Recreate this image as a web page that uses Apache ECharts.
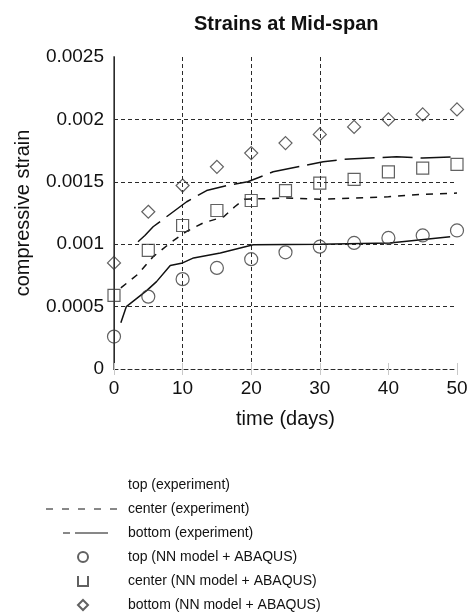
<!DOCTYPE html>
<html>
<head>
<meta charset="utf-8">
<script src="https://cdn.jsdelivr.net/npm/echarts@6/dist/echarts.min.js"></script>
<style>html,body{margin:0;padding:0;background:#fff}#c{width:471px;height:615px}</style>
</head>
<body>
<div id="c"></div>
<script>
// ---- data ----
const xTicks = [0, 10, 20, 30, 40, 50];
const yTicks = [0, 0.0005, 0.001, 0.0015, 0.002, 0.0025];

const nnDays = [0, 5, 10, 15, 20, 25, 30, 35, 40, 45, 50];
const topNN    = [0.00026, 0.00058, 0.00072, 0.00081, 0.00088, 0.000935, 0.00098, 0.00101, 0.00105, 0.00107, 0.00111];
const centerNN = [0.00059, 0.00095, 0.00115, 0.00127, 0.00135, 0.00143, 0.00149, 0.00152, 0.00158, 0.00161, 0.00164];
const bottomNN = [0.00085, 0.00126, 0.00147, 0.00162, 0.00173, 0.00181, 0.00188, 0.00194, 0.00200, 0.00204, 0.00208];

const topExpDays = [1, 1.8, 4.8, 6.2, 8.2, 10, 11.6, 15.5, 18.4, 20.3, 30, 40.2, 49];
const topExpVals = [0.00037, 0.0005, 0.00063, 0.0007, 0.00083, 0.00085, 0.00089, 0.00093, 0.00097, 0.000995, 0.001, 0.00101, 0.00106];

const centerExpDays = [1, 3.5, 5.7, 8.2, 10.5, 13, 16, 17.6, 19, 25, 30, 40, 45, 50];
const centerExpVals = [0.00065, 0.00076, 0.0009, 0.00101, 0.0011, 0.00117, 0.00122, 0.0013, 0.00136, 0.00137, 0.00136, 0.00138, 0.0014, 0.00141];

const bottomExpDays = [3.5, 4.5, 5.7, 10.6, 13.5, 16.5, 19.5, 23.2, 30.5, 33.4, 41.2, 45, 49.5];
const bottomExpVals = [0.00102, 0.00107, 0.00114, 0.00134, 0.00143, 0.00147, 0.0015, 0.00158, 0.00166, 0.00168, 0.0017, 0.00169, 0.0017];

const names = [
  'top (experiment)', 'center (experiment)', 'bottom (experiment)',
  'top (NN model + ABAQUS)', 'center (NN model + ABAQUS)', 'bottom (NN model + ABAQUS)'
];

const pair = (xs, ys) => xs.map((x, i) => [x, ys[i]]);

const FONT = '"Liberation Sans", Arial, sans-serif';
const GRID_C = '#2a2a2a';
const MARK_C = '#3a3a3a';
const NOFILL = 'rgba(0,0,0,0)';
const chart = echarts.init(document.getElementById('c'), null, {renderer: 'canvas'});

const lineSeries = (name, xs, ys, type) => ({
  name, type: 'line', data: pair(xs, ys), symbol: 'none', smooth: false,
  lineStyle: {color: '#111', width: 1.5, type: type},
  itemStyle: {color: '#111'}, z: 3, animation: false
});
const scatterSeries = (name, ys, symbol, size) => ({
  name, type: 'scatter', data: pair(nnDays, ys), symbol, symbolSize: size,
  itemStyle: {color: NOFILL, borderColor: MARK_C, borderWidth: 1.2},
  z: 4, animation: false
});

const legendText = {fontFamily: FONT, fontSize: 14, color: '#111', lineHeight: 14};
const hiddenDot = {color: NOFILL, borderWidth: 0, opacity: 0};

chart.setOption({
  animation: false,
  backgroundColor: '#fff',
  title: {
    text: 'Strains at Mid-span', left: 189, top: 9,
    textStyle: {fontFamily: FONT, fontWeight: 'bold', fontSize: 20, color: '#111'}
  },
  grid: {left: 114, right: 14, top: 57, bottom: 246},
  legend: [{
    orient: 'vertical', left: 45, top: 478, padding: 0,
    itemWidth: 73, itemHeight: 10, itemGap: 10,
    textStyle: Object.assign({padding: [0, 0, 0, 4]}, legendText),
    data: [
      {name: names[0], lineStyle: {opacity: 0}, itemStyle: hiddenDot},
      {name: names[1], lineStyle: {type: [7, 9], width: 1}, itemStyle: hiddenDot},
      {name: names[2], lineStyle: {type: [0, 17, 7, 5, 33, 40], width: 1}, itemStyle: hiddenDot}
    ]
  }, {
    orient: 'vertical', left: 77, top: 550, padding: 0,
    itemWidth: 10, itemHeight: 10, itemGap: 10,
    textStyle: Object.assign({padding: [0, 0, 0, 35]}, legendText),
    data: [
      {name: names[3], icon: 'circle'},
      {name: names[4], icon: 'path://M0,0L0,10L10,10L10,0'},
      {name: names[5], icon: 'diamond'}
    ]
  }],
  xAxis: [{
    type: 'value', min: 0, max: 50, interval: 10,
    name: 'time (days)', nameLocation: 'middle', nameGap: 40,
    nameTextStyle: {fontFamily: FONT, fontSize: 20, color: '#111'},
    axisLine: {show: true, lineStyle: {color: GRID_C, width: 1, type: [4, 3]}},
    axisTick: {show: true, inside: true, length: 6, lineStyle: {color: '#c8c8c8'}},
    axisLabel: {fontFamily: FONT, fontSize: 19, color: '#111', margin: 10},
    splitLine: {show: true, lineStyle: {color: [NOFILL, GRID_C, GRID_C, GRID_C, NOFILL, NOFILL], type: [4, 3], width: 1}}
  }, {
    type: 'value', min: 0, max: 50, interval: 10, position: 'top',
    axisLine: {show: false},
    axisTick: {show: true, inside: true, length: 6, lineStyle: {color: '#c8c8c8'}},
    axisLabel: {show: false}, splitLine: {show: false}
  }],
  yAxis: [{
    type: 'value', min: 0, max: 0.0025, interval: 0.0005,
    name: 'compressive strain', nameLocation: 'middle', nameGap: 81,
    nameTextStyle: {fontFamily: FONT, fontSize: 20, color: '#111'},
    axisLine: {show: true, lineStyle: {color: '#7a7a7a', width: 2}},
    axisTick: {show: false},
    axisLabel: {fontFamily: FONT, fontSize: 19, color: '#111', margin: 10,
      formatter: v => String(+v.toFixed(4))},
    splitLine: {show: true, lineStyle: {color: [NOFILL, GRID_C, GRID_C, GRID_C, GRID_C, NOFILL], type: [4, 3], width: 1}}
  }, {
    type: 'value', min: 0, max: 0.0025, interval: 0.0005, position: 'right',
    axisLine: {show: true, lineStyle: {color: GRID_C, width: 1}},
    axisTick: {show: false}, axisLabel: {show: false}, splitLine: {show: false}
  }],
  series: [
    lineSeries(names[0], topExpDays, topExpVals, 'solid'),
    lineSeries(names[1], centerExpDays, centerExpVals, [7, 7]),
    lineSeries(names[2], bottomExpDays, bottomExpVals, [30, 8]),
    scatterSeries(names[3], topNN, 'circle', 13),
    scatterSeries(names[4], centerNN, 'rect', 12),
    scatterSeries(names[5], bottomNN, 'diamond', 13)
  ]
});
</script>
</body>
</html>
